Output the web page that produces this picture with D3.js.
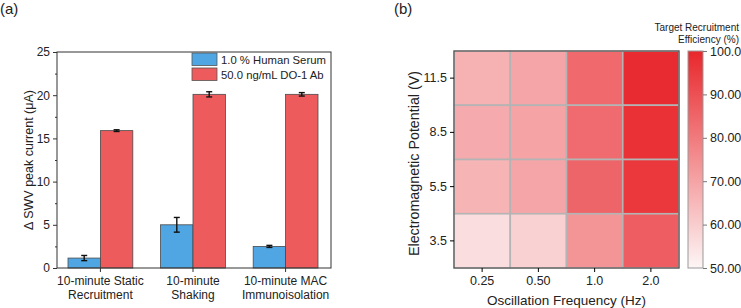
<!DOCTYPE html>
<html><head><meta charset="utf-8">
<script src="https://cdn.jsdelivr.net/npm/d3@7"></script>
<style>body{margin:0;background:#fff}svg{display:block;font-family:"Liberation Sans",Arial,sans-serif}</style>
</head><body>
<svg id="c" width="741" height="308"></svg>
<script>
// ---- Panel (a) data ----
const groups = [["10-minute Static","Recruitment"],["10-minute","Shaking"],["10-minute MAC","Immunoisolation"]];
const seriesNames = ["1.0 % Human Serum","50.0 ng/mL DO-1 Ab"];
const serumValues = [1.15, 5.0, 2.5];
const serumErrors = [0.3, 0.85, 0.12];
const antibodyValues = [15.9, 20.1, 20.1];
const antibodyErrors = [0.1, 0.3, 0.2];
const barTicks = [0,5,10,15,20,25];

// ---- Panel (b) data ----
const freqLabels = ["0.25","0.50","1.0","2.0"];
const potentialLabels = ["11.5","8.5","5.5","3.5"];
const efficiency = [ // rows: potentials (top to bottom), cols: frequencies
  [66.5, 69.5, 84, 99],
  [68, 70, 83.5, 97.5],
  [66, 69.5, 85, 96],
  [56, 59, 73.5, 87]
];
const cbTicks = ["50.00","60.00","70.00","80.00","90.00","100.0"];

const svg = d3.select("#c");
const blue = "#4fa6e2", red = "#ee5b5d";

// ===== Panel (a) =====
const A = {l:57, r:331, t:52, b:268};
const ga = svg.append("g");
const x0 = d3.scaleBand().domain(d3.range(groups.length)).range([A.l+11, A.r-13]).paddingInner(0.3).paddingOuter(0);
const x1 = d3.scaleBand().domain([0,1]).range([0, x0.bandwidth()]);
const y = d3.scaleLinear().domain([0,25]).range([A.b, A.t]);

const series = [
  {vals: serumValues, errs: serumErrors, color: blue},
  {vals: antibodyValues, errs: antibodyErrors, color: red}
];
series.forEach((s, si) => {
  const g = ga.append("g");
  g.selectAll("rect").data(s.vals).join("rect")
    .attr("x", (d,i)=>x0(i)+x1(si)).attr("width", x1.bandwidth())
    .attr("y", d=>y(d)).attr("height", d=>y(0)-y(d))
    .attr("fill", s.color).attr("stroke","#4a4a4a").attr("stroke-width",0.8);
  s.vals.forEach((d,i)=>{
    const cx = x0(i)+x1(si)+x1.bandwidth()/2;
    const e = s.errs[i];
    g.append("line").attr("x1",cx).attr("x2",cx).attr("y1",y(d-e)).attr("y2",y(d+e)).attr("stroke","#111").attr("stroke-width",1.4);
    [d-e,d+e].forEach(v=>g.append("line").attr("x1",cx-3).attr("x2",cx+3).attr("y1",y(v)).attr("y2",y(v)).attr("stroke","#111").attr("stroke-width",1.4));
  });
});

// frame
ga.append("rect").attr("x",A.l).attr("y",A.t).attr("width",A.r-A.l).attr("height",A.b-A.t)
  .attr("fill","none").attr("stroke","#333").attr("stroke-width",1);
// y axis
const yAx = ga.append("g").attr("transform",`translate(${A.l},0)`)
  .call(d3.axisLeft(y).tickValues(barTicks).tickSize(4).tickPadding(3));
yAx.select(".domain").remove();
yAx.selectAll("text").attr("font-size",12).attr("fill","#222");
yAx.selectAll("line").attr("stroke","#333");
ga.append("g").attr("transform",`translate(${A.l},0)`)
  .call(d3.axisLeft(y).tickValues([2.5,7.5,12.5,17.5,22.5]).tickSize(2).tickFormat(""))
  .call(g=>g.select(".domain").remove()).selectAll("line").attr("stroke","#333");
// x axis ticks
const xt = ga.append("g");
groups.forEach((lab,i)=>{
  const cx = x0(i)+x0.bandwidth()/2;
  xt.append("line").attr("x1",cx).attr("x2",cx).attr("y1",A.b).attr("y2",A.b+4).attr("stroke","#333");
  const t = xt.append("text").attr("x",cx).attr("text-anchor","middle").attr("font-size",12).attr("fill","#222");
  t.append("tspan").attr("x",cx).attr("y",285).text(lab[0]);
  t.append("tspan").attr("x",cx).attr("y",299).text(lab[1]);
});
ga.append("text").attr("transform",`translate(33,${(A.t+A.b)/2}) rotate(-90)`).attr("text-anchor","middle")
  .attr("font-size",12.5).attr("fill","#222").text("Δ SWV peak current (μA)");
// legend
seriesNames.forEach((n,i)=>{
  const yy = 53 + i*15;
  ga.append("rect").attr("x",192).attr("y",yy).attr("width",25).attr("height",12.5)
    .attr("fill",i?red:blue).attr("stroke","#555").attr("stroke-width",0.8);
  ga.append("text").attr("x",221).attr("y",yy+10.5).attr("font-size",11.3).attr("fill","#222").text(n);
});
svg.append("text").attr("x",0).attr("y",14).attr("font-size",15).attr("fill","#222").text("(a)");

// ===== Panel (b) =====
const B = {l:454, r:679, t:51, b:268};
const gb = svg.append("g");
const xb = d3.scaleBand().domain(freqLabels).range([B.l,B.r]);
const yb = d3.scaleBand().domain(potentialLabels).range([B.t,B.b]);
const color = d3.scaleLinear().domain([50,100]).range(["#fdf6f6","#e8272c"]);
const cells = [];
efficiency.forEach((row,ri)=>row.forEach((v,ci)=>cells.push({r:potentialLabels[ri],c:freqLabels[ci],v})));
gb.selectAll("rect.cell").data(cells).join("rect").attr("class","cell")
  .attr("x",d=>xb(d.c)).attr("y",d=>yb(d.r)).attr("width",xb.bandwidth()).attr("height",yb.bandwidth())
  .attr("fill",d=>color(d.v)).attr("stroke","#b4b4b4").attr("stroke-width",1.6);
gb.append("rect").attr("x",B.l).attr("y",B.t).attr("width",B.r-B.l).attr("height",B.b-B.t)
  .attr("fill","none").attr("stroke","#444").attr("stroke-width",1);
const xbAx = gb.append("g").attr("transform",`translate(0,${B.b})`).call(d3.axisBottom(xb).tickSize(4).tickPadding(4));
xbAx.select(".domain").remove();
xbAx.selectAll("text").attr("font-size",12.5).attr("fill","#222");
const ybAx = gb.append("g").attr("transform",`translate(${B.l},0)`).call(d3.axisLeft(yb).tickSize(4).tickPadding(3));
ybAx.select(".domain").remove();
ybAx.selectAll("text").attr("font-size",12.5).attr("fill","#222");
gb.append("text").attr("x",(B.l+B.r)/2).attr("y",305).attr("text-anchor","middle").attr("font-size",13.5).attr("fill","#222").text("Oscillation Frequency (Hz)");
gb.append("text").attr("transform",`translate(419,${(B.t+B.b)/2 + 4}) rotate(-90)`).attr("text-anchor","middle")
  .attr("font-size",14.3).attr("fill","#222").text("Electromagnetic Potential (V)");
// colorbar
const defs = svg.append("defs");
const grad = defs.append("linearGradient").attr("id","cbg").attr("x1",0).attr("x2",0).attr("y1",1).attr("y2",0);
[50,75,100].forEach(v=>grad.append("stop").attr("offset",(v-50)/50).attr("stop-color",color(v)));
const cbY = d3.scaleLinear().domain([50,100]).range([B.b,B.t]);
gb.append("rect").attr("x",688).attr("y",B.t).attr("width",15).attr("height",B.b-B.t)
  .attr("fill","url(#cbg)").attr("stroke","#999").attr("stroke-width",1);
const cbAx = gb.append("g").attr("transform","translate(703,0)")
  .call(d3.axisRight(cbY).tickValues(cbTicks.map(Number)).tickSize(4).tickPadding(3).tickFormat((d,i)=>cbTicks[i]));
cbAx.select(".domain").remove();
cbAx.selectAll("line").attr("stroke","#777");
cbAx.selectAll("text").attr("font-size",12.5).attr("fill","#222");
gb.append("text").attr("x",739).attr("y",31).attr("text-anchor","end").attr("font-size",10).attr("fill","#222").text("Target Recruitment");
gb.append("text").attr("x",739).attr("y",43).attr("text-anchor","end").attr("font-size",10).attr("fill","#222").text("Efficiency (%)");
svg.append("text").attr("x",394).attr("y",14).attr("font-size",15).attr("fill","#222").text("(b)");
</script>
</body></html>
